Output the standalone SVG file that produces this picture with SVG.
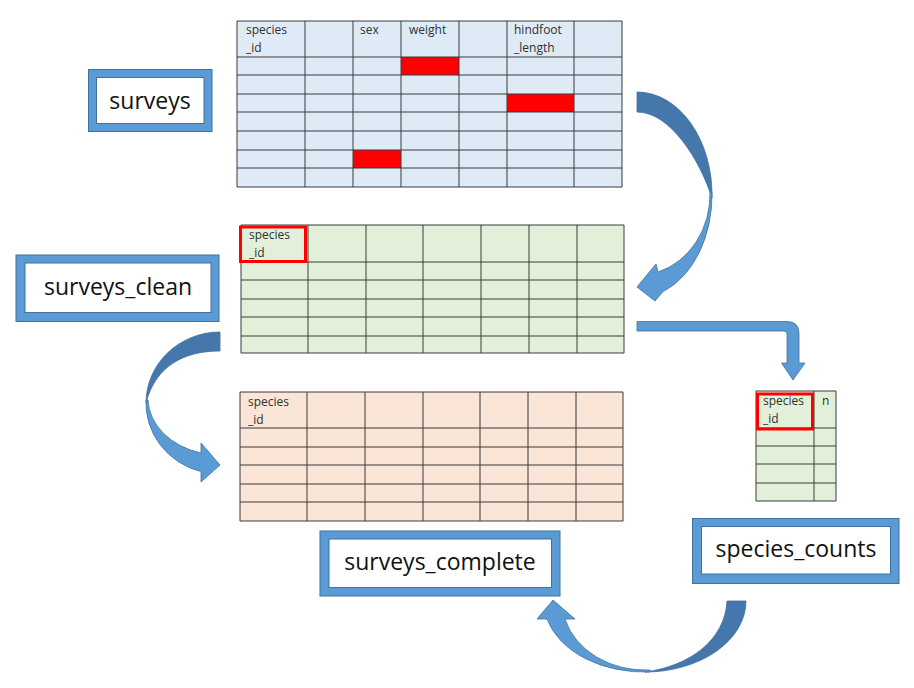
<svg xmlns="http://www.w3.org/2000/svg" width="914" height="688" viewBox="0 0 914 688">
<style>
.grid{fill:none;stroke:#3a3a3a;stroke-width:1}
.cell{font-family:"Open Sans","Liberation Sans",sans-serif;font-size:12px;fill:#303030}
.lbl{font-family:"Open Sans","Liberation Sans",sans-serif;font-size:23px;fill:#111;text-anchor:middle}
.frame{fill:#5B9BD5;stroke:#41719C;stroke-width:1}
.inner{fill:#fff;stroke:#41719C;stroke-width:1}
.hl{fill:none;stroke:#FF0000;stroke-width:3}
.dark{fill:#4677AC;stroke:#41719C;stroke-width:0.8}
.light{fill:#5B9BD5;stroke:#41719C;stroke-width:0.8}
</style>
<rect width="914" height="688" fill="#fff"/>

<g id="table-surveys">
<rect x="237" y="21" width="385" height="166" fill="#DEEBF7"/>
<rect x="401" y="57" width="58" height="18" fill="#FF0000"/>
<rect x="507" y="94" width="67" height="18" fill="#FF0000"/>
<rect x="353" y="150" width="48" height="18" fill="#FF0000"/>
<path class="grid" d="M237,21V187M305,21V187M353,21V187M401,21V187M459,21V187M507,21V187M574,21V187M622,21V187M237,21H622M237,57H622M237,75H622M237,94H622M237,112H622M237,131H622M237,150H622M237,168H622M237,187H622"/>
<text class="cell" x="246" y="34">species</text>
<text class="cell" x="246" y="52">_id</text>
<text class="cell" x="360" y="34">sex</text>
<text class="cell" x="409" y="34">weight</text>
<text class="cell" x="514" y="34">hindfoot</text>
<text class="cell" x="514" y="52">_length</text>
</g>

<g id="table-surveys-clean">
<rect x="241" y="225" width="383" height="128" fill="#E2F0D9"/>
<path class="grid" d="M241,225V353M308,225V353M366,225V353M423,225V353M481,225V353M529,225V353M577,225V353M624,225V353M241,225H624M241,262H624M241,280H624M241,299H624M241,317H624M241,336H624M241,353H624"/>
<rect class="hl" x="240.5" y="227" width="65" height="34.5"/>
<text class="cell" x="249" y="239">species</text>
<text class="cell" x="249" y="257">_id</text>
</g>

<g id="table-surveys-complete">
<rect x="240" y="392" width="383" height="129" fill="#FBE5D6"/>
<path class="grid" d="M240,392V521M307,392V521M365,392V521M423,392V521M480,392V521M528,392V521M576,392V521M623,392V521M240,392H623M240,428H623M240,447H623M240,465H623M240,484H623M240,502H623M240,521H623"/>
<text class="cell" x="248" y="406">species</text>
<text class="cell" x="248" y="424">_id</text>
</g>

<g id="table-species-counts">
<rect x="756" y="391" width="80" height="110" fill="#E2F0D9"/>
<path class="grid" d="M756,391V501M814,391V501M836,391V501M756,391H836M756,428H836M756,446H836M756,464H836M756,483H836M756,501H836"/>
<rect class="hl" x="757.5" y="394" width="55" height="35"/>
<text class="cell" x="763" y="405">species</text>
<text class="cell" x="763" y="423">_id</text>
<text class="cell" x="822" y="405">n</text>
</g>

<g id="box-surveys">
<rect class="frame" x="88.5" y="69.5" width="123.5" height="62"/>
<rect class="inner" x="96.5" y="77.5" width="107.5" height="46"/>
<text class="lbl" x="150" y="109">surveys</text>
</g>

<g id="box-surveys-clean">
<rect class="frame" x="16" y="255" width="203" height="66.5"/>
<rect class="inner" x="25" y="263" width="186" height="49.5"/>
<text class="lbl" x="118" y="295">surveys_clean</text>
</g>

<g id="box-surveys-complete">
<rect class="frame" x="320" y="531" width="240" height="65"/>
<rect class="inner" x="329" y="539" width="222.5" height="48.5"/>
<text class="lbl" x="440" y="570">surveys_complete</text>
</g>

<g id="box-species-counts">
<rect class="frame" x="692.5" y="518.5" width="206.5" height="65"/>
<rect class="inner" x="701.5" y="526.5" width="189" height="47.5"/>
<text class="lbl" x="796" y="557">species_counts</text>
</g>

<g id="connectors">
<!-- surveys -> surveys_clean -->
<path class="dark" d="M637,92 A75,103 0 0 1 712,198 C700,160 670,112 637,112 Z"/>
<path class="light" d="M712,192 A75,103 0 0 1 663,291.6 L655,301 L637,287 L656,264 L658,272 A72,81 0 0 0 710,192 Z"/>
<!-- surveys_clean -> surveys_complete -->
<path class="dark" d="M220,332 A74,71 0 0 0 146,403 C156,365 185,351 220,351 Z"/>
<path class="light" d="M146,400 A74,71 0 0 0 201,471.6 L201,482 L220,465 L201,443 L201,453 A72,57 0 0 1 148,400 Z"/>
<!-- surveys_clean -> species_counts -->
<path class="light" d="M637,321.5 L787,321.5 Q799,321.5 799,333.5 L799,363 L805,363 L793,380 L781.5,363 L787,363 L787,334 Q787,331 784,331 L637,331 Z"/>
<!-- species_counts -> surveys_complete -->
<path class="dark" d="M746,601 A101,71 0 0 1 645,672 C690,666 725,640 727,601 Z"/>
<path class="light" d="M650,672 A101,71 0 0 1 547,619 L537,619 L553,600 L575,619 L565,619 A83,69 0 0 0 650,670 Z"/>
</g>
</svg>
